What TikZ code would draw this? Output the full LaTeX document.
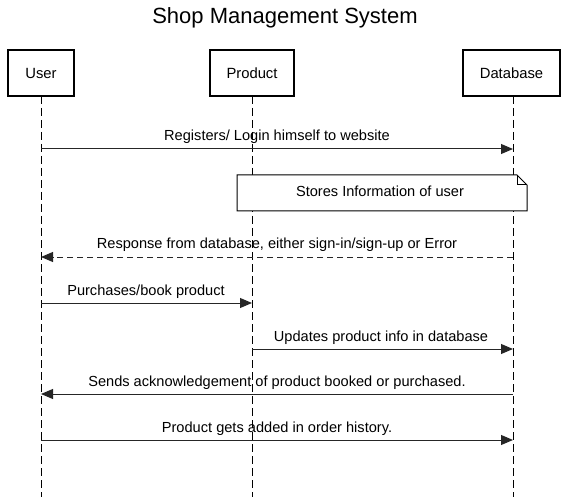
\documentclass[tikz,border=0pt]{standalone}
\usepackage{fontspec}
\setmainfont{Liberation Sans}
\usetikzlibrary{arrows.meta}
\begin{document}
\begin{tikzpicture}[x=1pt,y=-1pt,
  actor/.style={draw=black,line width=2pt,fill=white,minimum width=66pt,minimum height=46pt,inner sep=0pt,font=\fontsize{14.8}{16}\selectfont},
  lifeline/.style={draw=black,line width=1pt,dash pattern=on 8pt off 4pt},
  msg/.style={draw=black!85,line width=1pt,-{Triangle[length=12pt,width=10pt]}},
  reply/.style={msg,dash pattern=on 6pt off 4pt},
  lbl/.style={font=\fontsize{14.6}{16}\selectfont,inner sep=0pt}]
\useasboundingbox (0,0) rectangle (570,497);
\node[font=\fontsize{22}{26}\selectfont] (title) at (285,18) {Shop Management System};
\node[actor] (user) at (41,73) {User};
\node[actor,minimum width=84pt] (prod) at (252,73) {Product};
\node[actor,minimum width=97pt] (db) at (511.5,73) {Database};
\coordinate (uend) at (41,497);
\coordinate (pend) at (252,497);
\coordinate (dend) at (513,497);
\draw[lifeline] (41,96) -- (uend);
\draw[lifeline] (252,96) -- (pend);
\draw[lifeline] (513,96) -- (dend);
% messages
\coordinate (m1a) at (41,149); \coordinate (m1b) at (513,149);
\draw[msg] (m1a) -- (m1b);
\node[lbl] (t1) at (277,137) {Registers/ Login himself to website};
% note
\draw[draw=black,line width=1pt,fill=white] (237,175) -- (517,175) -- (527,185) -- (527,211) -- (237,211) -- cycle;
\draw[draw=black,line width=1pt] (517,175) -- (517,185) -- (527,185);
\node[lbl] (note) at (380,191) {Stores Information of user};
\coordinate (m2a) at (513,257); \coordinate (m2b) at (41,257);
\draw[reply] (m2a) -- (m2b);
\node[lbl] (t2) at (277,245) {Response from database, either sign-in/sign-up or Error};
\coordinate (m3a) at (41,303); \coordinate (m3b) at (252,303);
\draw[msg] (m3a) -- (m3b);
\node[lbl] (t3) at (146,292) {Purchases/book product};
\coordinate (m4a) at (252,349); \coordinate (m4b) at (513,349);
\draw[msg] (m4a) -- (m4b);
\node[lbl] (t4) at (381,338) {Updates product info in database};
\coordinate (m5a) at (513,394); \coordinate (m5b) at (41,394);
\draw[msg] (m5a) -- (m5b);
\node[lbl] (t5) at (277,383) {Sends acknowledgement of product booked or purchased.};
\coordinate (m6a) at (41,440); \coordinate (m6b) at (513,440);
\draw[msg] (m6a) -- (m6b);
\node[lbl] (t6) at (277,429) {Product gets added in order history.};
\end{tikzpicture}
\end{document}
